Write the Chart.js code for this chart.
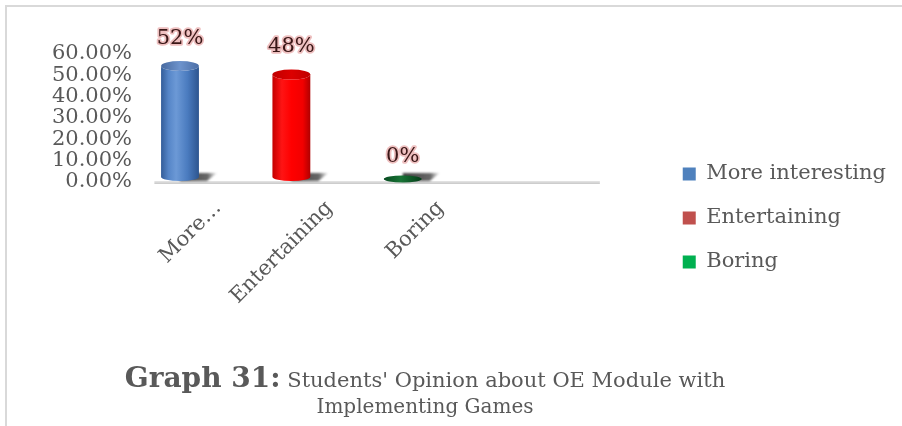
<!DOCTYPE html>
<html>
<head>
<meta charset="utf-8">
<script src="https://cdn.jsdelivr.net/npm/chart.js@4.4.1/dist/chart.umd.min.js"></script>
<style>
  html, body { margin: 0; padding: 0; background: #fff; overflow: hidden; }
  body { width: 902px; height: 426px; position: relative; font-family: 'DejaVu Serif', serif; }
  #frame { position: absolute; left: 5px; top: 5px; width: 920px; height: 440px; border-top: 2px solid #d9d9d9; border-left: 2px solid #d9d9d9; }
  #wrap { position: absolute; left: 0; top: 0; width: 902px; height: 426px; }
  #legenda { position: absolute; left: 0; top: 362px; width: 850px; text-align: center; color: #595959; }
  #legenda div { white-space: nowrap; }
  #linha1 { height: 31px; line-height: 31px; }
  #linha1 b { font-size: 28px; }
  #linha1 span { font-size: 21px; }
  #linha2 { height: 26px; line-height: 26px; font-size: 20px; }
</style>
</head>
<body>
<div id="frame"></div>
<div id="wrap"><canvas id="opiniao"></canvas></div>
<div id="legenda">
  <div id="linha1"><b>Graph 31:</b><span> Students' Opinion about OE Module with</span></div>
  <div id="linha2">Implementing Games</div>
</div>

<script>
// dados do gráfico
const categorias = ['More interesting', 'Entertaining', 'Boring'];
const rotulosEixo = ['More…', 'Entertaining', 'Boring'];
const valores = [52, 48, 0];
const ticksY = [0, 10, 20, 30, 40, 50, 60];

const coresLegenda = ['#4f81bd', '#c0504d', '#00b050'];

// gradientes dos cilindros (corpo / tampa)
const coresCilindro = [
    {
        corpo: [[0, '#335d99'], [0.2, '#5686c8'], [0.4, '#6c99d6'], [0.7, '#4a7bbf'], [1, '#2d558f']],
        tampa: [[0, '#47699f'], [0.5, '#6d93cc'], [1, '#4b6ea6']]
    },
    {
        corpo: [[0, '#c40000'], [0.25, '#ff1414'], [0.5, '#ff0000'], [0.8, '#f20000'], [1, '#b00000']],
        tampa: [[0, '#c00000'], [0.5, '#dc0000'], [1, '#c00000']]
    },
    {
        corpo: [[0, '#074a20'], [0.45, '#187436'], [1, '#053d19']],
        tampa: [[0, '#074a20'], [0.45, '#187436'], [1, '#053d19']]
    }
];

const corTexto = '#595959';
const fonte = "'DejaVu Serif', serif";

function gradienteH(ctx, x0, x1, paradas) {
    let g = ctx.createLinearGradient(x0, 0, x1, 0);
    paradas.forEach(p => g.addColorStop(p[0], p[1]));
    return g;
}

// geometria do cilindro a partir da barra calculada pelo Chart.js
function geometria(barra) {
    const p = barra.getProps(['x', 'y', 'base', 'width'], true);
    const rx = p.width / 2;
    const h = p.base - p.y;
    if (h < 2) {
        return { x: p.x, base: p.base, rx: rx, plano: true, cy: p.base - 3, ry: 3.5, topo: p.base - 6.5 };
    }
    const ry = 5;
    const cy = p.y - Math.min(h, 10) + ry;
    return { x: p.x, base: p.base, rx: rx, plano: false, cy: cy, ry: ry, fundo: p.base - 5, topo: cy - ry };
}

function desenhaSombra(ctx, g) {
    ctx.save();
    let grad = ctx.createLinearGradient(g.x, 0, g.x + g.rx + 18, 0);
    grad.addColorStop(0, 'rgba(30,30,30,0.85)');
    grad.addColorStop(0.75, 'rgba(40,40,40,0.7)');
    grad.addColorStop(1, 'rgba(90,90,90,0.1)');
    ctx.fillStyle = grad;
    ctx.filter = 'blur(1px)';
    ctx.beginPath();
    ctx.moveTo(g.x, g.base - 9);
    ctx.lineTo(g.x + g.rx + 18, g.base - 9);
    ctx.lineTo(g.x + g.rx + 8, g.base - 1);
    ctx.lineTo(g.x, g.base - 1);
    ctx.closePath();
    ctx.fill();
    ctx.restore();
}

function desenhaCilindro(ctx, barra, i) {
    const g = geometria(barra);
    const cores = coresCilindro[i];
    desenhaSombra(ctx, g);

    ctx.save();
    if (g.plano) {
        ctx.fillStyle = gradienteH(ctx, g.x - g.rx, g.x + g.rx, cores.tampa);
        ctx.beginPath();
        ctx.ellipse(g.x, g.cy, g.rx, g.ry, 0, 0, Math.PI * 2);
        ctx.fill();
        ctx.restore();
        return;
    }
    // corpo
    ctx.fillStyle = gradienteH(ctx, g.x - g.rx, g.x + g.rx, cores.corpo);
    ctx.beginPath();
    ctx.moveTo(g.x - g.rx, g.cy);
    ctx.lineTo(g.x - g.rx, g.fundo);
    ctx.ellipse(g.x, g.fundo, g.rx, 4, 0, Math.PI, 0, true);
    ctx.lineTo(g.x + g.rx, g.cy);
    ctx.ellipse(g.x, g.cy, g.rx, g.ry, 0, 0, Math.PI, false);
    ctx.closePath();
    ctx.fill();
    // tampa
    ctx.fillStyle = gradienteH(ctx, g.x - g.rx, g.x + g.rx, cores.tampa);
    ctx.beginPath();
    ctx.ellipse(g.x, g.cy, g.rx, g.ry, 0, 0, Math.PI * 2);
    ctx.fill();
    ctx.restore();
}

const pluginCilindros = {
    id: 'cilindros',
    beforeDatasetsDraw(chart) {
        // piso cinza do gráfico 3D
        const ctx = chart.ctx;
        const x = chart.scales.x;
        const passo = x.getPixelForValue(1) - x.getPixelForValue(0);
        const y0 = chart.chartArea.bottom;
        const inicio = x.getPixelForValue(0) - passo * 0.23;
        const fim = x.getPixelForValue(2) + passo * 1.77;
        ctx.save();
        let grad = ctx.createLinearGradient(0, y0 - 1, 0, y0 + 2);
        grad.addColorStop(0, '#e6e6e6');
        grad.addColorStop(1, '#c8c8c8');
        ctx.fillStyle = grad;
        ctx.fillRect(inicio, y0 - 1, fim - inicio, 3);
        ctx.restore();
    },
    beforeDatasetDraw(chart, args) {
        const ctx = chart.ctx;
        args.meta.data.forEach((barra, i) => desenhaCilindro(ctx, barra, i));
        return false;
    },
    afterDatasetsDraw(chart) {
        // rótulos de valor acima das barras
        const ctx = chart.ctx;
        const meta = chart.getDatasetMeta(0);
        ctx.save();
        ctx.font = '21px ' + fonte;
        ctx.textAlign = 'center';
        ctx.textBaseline = 'middle';
        ctx.lineJoin = 'round';
        meta.data.forEach((barra, i) => {
            const g = geometria(barra);
            const texto = valores[i] + '%';
            const ty = g.topo - (g.plano ? 19 : 23);
            ctx.strokeStyle = 'rgba(232,170,170,0.75)';
            ctx.lineWidth = 3.5;
            ctx.strokeText(texto, g.x, ty);
            ctx.fillStyle = '#3a1717';
            ctx.fillText(texto, g.x, ty);
        });
        ctx.restore();
    }
};

const dados = {
    labels: categorias,
    datasets: [{
        label: "Students' Opinion",
        data: valores,
        backgroundColor: coresLegenda,
        categoryPercentage: 1,
        barPercentage: 0.34
    }]
};

const config = {
    type: 'bar',
    data: dados,
    plugins: [pluginCilindros],
    options: {
        responsive: true,
        maintainAspectRatio: false,
        animation: false,
        layout: { padding: { top: 54, left: 0, right: 6, bottom: 44 } },
        scales: {
            x: {
                offset: false,
                grid: { display: false, drawTicks: false },
                border: { display: false },
                ticks: {
                    color: corTexto,
                    font: { family: fonte, size: 21 },
                    minRotation: 45,
                    maxRotation: 45,
                    autoSkip: false,
                    padding: 14,
                    labelOffset: 38,
                    callback: (v, i) => rotulosEixo[i]
                },
                afterFit: (s) => { s.height = 200; }
            },
            y: {
                min: 0,
                max: 60,
                grid: { display: false, drawTicks: false },
                border: { display: false },
                ticks: {
                    color: corTexto,
                    font: { family: fonte, size: 21 },
                    autoSkip: false,
                    padding: 48,
                    callback: (v) => v.toFixed(2) + '%'
                },
                afterBuildTicks: (s) => { s.ticks = ticksY.map(v => ({ value: v })); },
                afterFit: (s) => {
                    s.width = 180;
                    // o padding dos ticks é só horizontal
                    s.paddingTop = 13;
                    s.paddingBottom = 13;
                }
            },
            // espaço vazio entre o piso e a legenda
            espaco: {
                type: 'linear',
                position: 'right',
                grid: { display: false, drawTicks: false },
                border: { display: false },
                ticks: { display: false },
                afterFit: (s) => { s.width = 257; }
            }
        },
        plugins: {
            tooltip: { enabled: false },
            legend: {
                position: 'right',
                maxWidth: 300,
                labels: {
                    color: corTexto,
                    font: { family: fonte, size: 21 },
                    boxWidth: 13,
                    boxHeight: 13,
                    padding: 23,
                    generateLabels: () => categorias.map((c, i) => ({
                        text: c,
                        fillStyle: coresLegenda[i],
                        strokeStyle: coresLegenda[i],
                        lineWidth: 0,
                        fontColor: corTexto,
                        index: i
                    }))
                }
            }
        }
    }
};

const grafico = new Chart(document.getElementById('opiniao'), config);
</script>
</body>
</html>
